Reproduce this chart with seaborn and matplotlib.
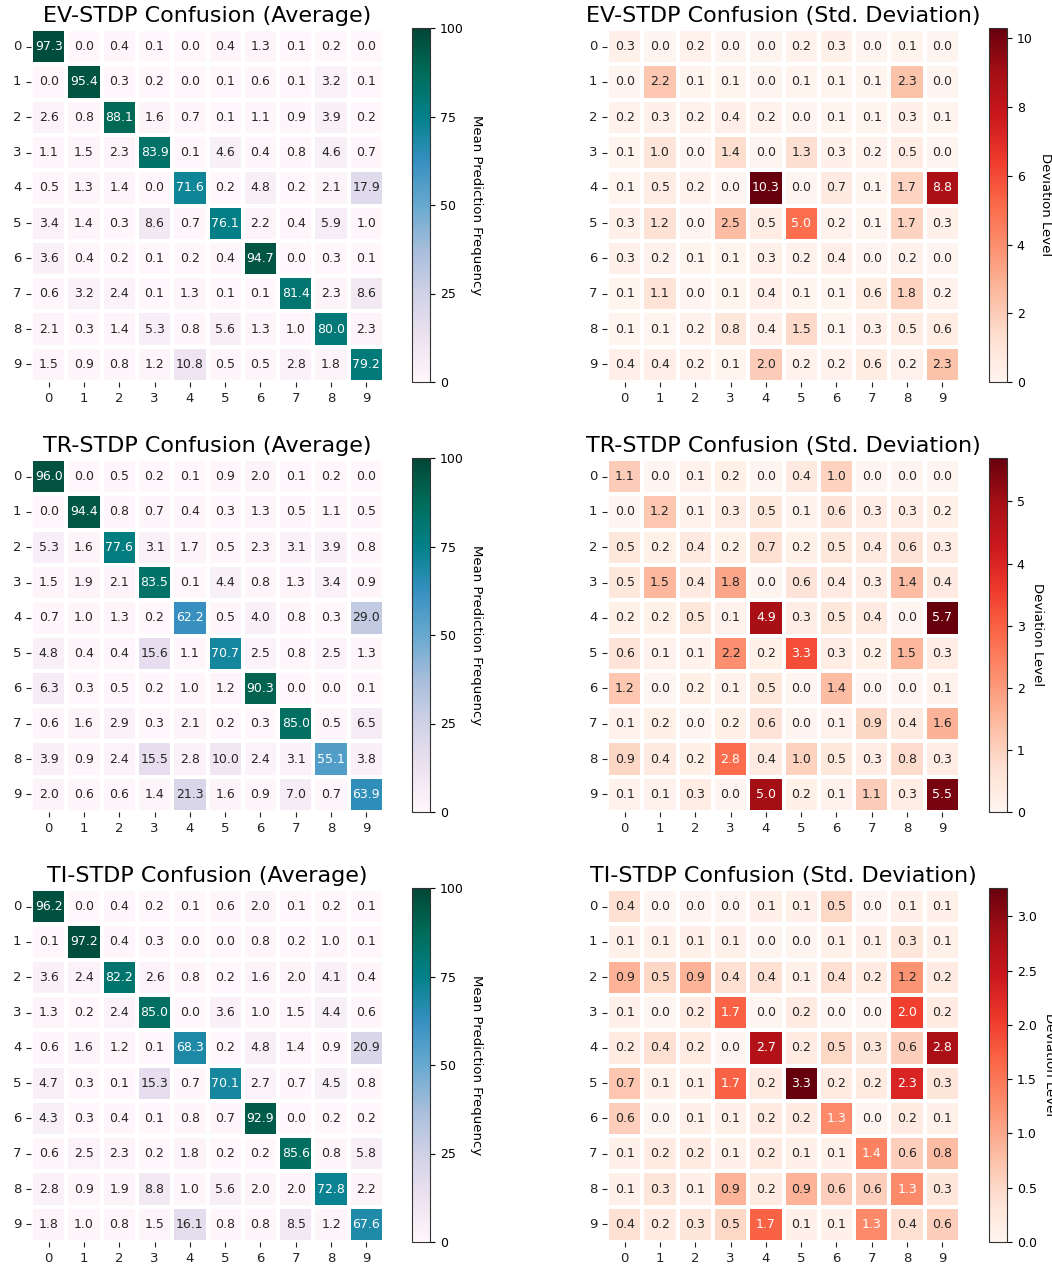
import numpy as np
import matplotlib
matplotlib.use("Agg")
import matplotlib.pyplot as plt
import seaborn as sns

CLASSES = [str(i) for i in range(10)]
CBAR_LABELS = ["Mean Prediction Frequency", "Deviation Level"]

ev_mean = [
    [97.3, 0.0, 0.4, 0.1, 0.0, 0.4, 1.3, 0.1, 0.2, 0.0],
    [0.0, 95.4, 0.3, 0.2, 0.0, 0.1, 0.6, 0.1, 3.2, 0.1],
    [2.6, 0.8, 88.1, 1.6, 0.7, 0.1, 1.1, 0.9, 3.9, 0.2],
    [1.1, 1.5, 2.3, 83.9, 0.1, 4.6, 0.4, 0.8, 4.6, 0.7],
    [0.5, 1.3, 1.4, 0.0, 71.6, 0.2, 4.8, 0.2, 2.1, 17.9],
    [3.4, 1.4, 0.3, 8.6, 0.7, 76.1, 2.2, 0.4, 5.9, 1.0],
    [3.6, 0.4, 0.2, 0.1, 0.2, 0.4, 94.7, 0.0, 0.3, 0.1],
    [0.6, 3.2, 2.4, 0.1, 1.3, 0.1, 0.1, 81.4, 2.3, 8.6],
    [2.1, 0.3, 1.4, 5.3, 0.8, 5.6, 1.3, 1.0, 80.0, 2.3],
    [1.5, 0.9, 0.8, 1.2, 10.8, 0.5, 0.5, 2.8, 1.8, 79.2],
]
ev_std = [
    [0.3, 0.0, 0.2, 0.0, 0.0, 0.2, 0.3, 0.0, 0.1, 0.0],
    [0.0, 2.2, 0.1, 0.1, 0.0, 0.1, 0.1, 0.1, 2.3, 0.0],
    [0.2, 0.3, 0.2, 0.4, 0.2, 0.0, 0.1, 0.1, 0.3, 0.1],
    [0.1, 1.0, 0.0, 1.4, 0.0, 1.3, 0.3, 0.2, 0.5, 0.0],
    [0.1, 0.5, 0.2, 0.0, 10.3, 0.0, 0.7, 0.1, 1.7, 8.8],
    [0.3, 1.2, 0.0, 2.5, 0.5, 5.0, 0.2, 0.1, 1.7, 0.3],
    [0.3, 0.2, 0.1, 0.1, 0.3, 0.2, 0.4, 0.0, 0.2, 0.0],
    [0.1, 1.1, 0.0, 0.1, 0.4, 0.1, 0.1, 0.6, 1.8, 0.2],
    [0.1, 0.1, 0.2, 0.8, 0.4, 1.5, 0.1, 0.3, 0.5, 0.6],
    [0.4, 0.4, 0.2, 0.1, 2.0, 0.2, 0.2, 0.6, 0.2, 2.3],
]
tr_mean = [
    [96.0, 0.0, 0.5, 0.2, 0.1, 0.9, 2.0, 0.1, 0.2, 0.0],
    [0.0, 94.4, 0.8, 0.7, 0.4, 0.3, 1.3, 0.5, 1.1, 0.5],
    [5.3, 1.6, 77.6, 3.1, 1.7, 0.5, 2.3, 3.1, 3.9, 0.8],
    [1.5, 1.9, 2.1, 83.5, 0.1, 4.4, 0.8, 1.3, 3.4, 0.9],
    [0.7, 1.0, 1.3, 0.2, 62.2, 0.5, 4.0, 0.8, 0.3, 29.0],
    [4.8, 0.4, 0.4, 15.6, 1.1, 70.7, 2.5, 0.8, 2.5, 1.3],
    [6.3, 0.3, 0.5, 0.2, 1.0, 1.2, 90.3, 0.0, 0.0, 0.1],
    [0.6, 1.6, 2.9, 0.3, 2.1, 0.2, 0.3, 85.0, 0.5, 6.5],
    [3.9, 0.9, 2.4, 15.5, 2.8, 10.0, 2.4, 3.1, 55.1, 3.8],
    [2.0, 0.6, 0.6, 1.4, 21.3, 1.6, 0.9, 7.0, 0.7, 63.9],
]
tr_std = [
    [1.1, 0.0, 0.1, 0.2, 0.0, 0.4, 1.0, 0.0, 0.0, 0.0],
    [0.0, 1.2, 0.1, 0.3, 0.5, 0.1, 0.6, 0.3, 0.3, 0.2],
    [0.5, 0.2, 0.4, 0.2, 0.7, 0.2, 0.5, 0.4, 0.6, 0.3],
    [0.5, 1.5, 0.4, 1.8, 0.0, 0.6, 0.4, 0.3, 1.4, 0.4],
    [0.2, 0.2, 0.5, 0.1, 4.9, 0.3, 0.5, 0.4, 0.0, 5.7],
    [0.6, 0.1, 0.1, 2.2, 0.2, 3.3, 0.3, 0.2, 1.5, 0.3],
    [1.2, 0.0, 0.2, 0.1, 0.5, 0.0, 1.4, 0.0, 0.0, 0.1],
    [0.1, 0.2, 0.0, 0.2, 0.6, 0.0, 0.1, 0.9, 0.4, 1.6],
    [0.9, 0.4, 0.2, 2.8, 0.4, 1.0, 0.5, 0.3, 0.8, 0.3],
    [0.1, 0.1, 0.3, 0.0, 5.0, 0.2, 0.1, 1.1, 0.3, 5.5],
]
ti_mean = [
    [96.2, 0.0, 0.4, 0.2, 0.1, 0.6, 2.0, 0.1, 0.2, 0.1],
    [0.1, 97.2, 0.4, 0.3, 0.0, 0.0, 0.8, 0.2, 1.0, 0.1],
    [3.6, 2.4, 82.2, 2.6, 0.8, 0.2, 1.6, 2.0, 4.1, 0.4],
    [1.3, 0.2, 2.4, 85.0, 0.0, 3.6, 1.0, 1.5, 4.4, 0.6],
    [0.6, 1.6, 1.2, 0.1, 68.3, 0.2, 4.8, 1.4, 0.9, 20.9],
    [4.7, 0.3, 0.1, 15.3, 0.7, 70.1, 2.7, 0.7, 4.5, 0.8],
    [4.3, 0.3, 0.4, 0.1, 0.8, 0.7, 92.9, 0.0, 0.2, 0.2],
    [0.6, 2.5, 2.3, 0.2, 1.8, 0.2, 0.2, 85.6, 0.8, 5.8],
    [2.8, 0.9, 1.9, 8.8, 1.0, 5.6, 2.0, 2.0, 72.8, 2.2],
    [1.8, 1.0, 0.8, 1.5, 16.1, 0.8, 0.8, 8.5, 1.2, 67.6],
]
ti_std = [
    [0.4, 0.0, 0.0, 0.0, 0.1, 0.1, 0.5, 0.0, 0.1, 0.1],
    [0.1, 0.1, 0.1, 0.1, 0.0, 0.0, 0.1, 0.1, 0.3, 0.1],
    [0.9, 0.5, 0.9, 0.4, 0.4, 0.1, 0.4, 0.2, 1.2, 0.2],
    [0.1, 0.0, 0.2, 1.7, 0.0, 0.2, 0.0, 0.0, 2.0, 0.2],
    [0.2, 0.4, 0.2, 0.0, 2.7, 0.2, 0.5, 0.3, 0.6, 2.8],
    [0.7, 0.1, 0.1, 1.7, 0.2, 3.26, 0.2, 0.2, 2.3, 0.3],
    [0.6, 0.0, 0.1, 0.1, 0.2, 0.2, 1.3, 0.0, 0.2, 0.1],
    [0.1, 0.2, 0.2, 0.1, 0.2, 0.1, 0.1, 1.4, 0.6, 0.8],
    [0.1, 0.3, 0.1, 0.9, 0.2, 0.9, 0.6, 0.6, 1.3, 0.3],
    [0.4, 0.2, 0.3, 0.5, 1.7, 0.1, 0.1, 1.3, 0.4, 0.6],
]

rules = ["EV-STDP", "TR-STDP", "TI-STDP"]
means = [ev_mean, tr_mean, ti_mean]
stds = [ev_std, tr_std, ti_std]

W, H = 1052, 1268
fig = plt.figure(figsize=(W / 100, H / 100), dpi=100)

def px_axes(x0, y0, w, h):
    return fig.add_axes([x0 / W, 1 - (y0 + h) / H, w / W, h / H])

row_tops = [29, 459, 889]
side = 353

for r, rule in enumerate(rules):
    y0 = row_tops[r]
    for c, (data, cmap, kind) in enumerate([(means[r], "PuBuGn", "Average"),
                                             (stds[r], "Reds", "Std. Deviation")]):
        x0 = 31 if c == 0 else 607
        cx0 = 412 if c == 0 else 989
        ax = px_axes(x0, y0, side, side)
        cax = px_axes(cx0, y0 - 1, 18, side + 1)
        kw = dict(vmin=0, vmax=100) if c == 0 else dict(vmin=0)
        sns.heatmap(np.array(data), ax=ax, cbar_ax=cax, cmap=cmap, annot=True, fmt=".1f",
                    annot_kws={"size": 9}, linewidths=1.5, linecolor="white",
                    xticklabels=CLASSES, yticklabels=CLASSES, **kw)
        ax.set_title(f"{rule} Confusion ({kind})", fontsize=16, pad=5)
        ax.tick_params(labelsize=9.5, colors="#222222")
        ax.set_yticklabels(CLASSES, rotation=0)
        ax.set_xticklabels(CLASSES, rotation=0)
        if c == 0:
            cax.set_yticks([0, 25, 50, 75, 100])
        cax.tick_params(labelsize=9)
        cbar = ax.collections[0].colorbar
        cbar.outline.set_linewidth(0.8)
        cbar.outline.set_edgecolor("#333333")
        cbar.set_label(CBAR_LABELS[c], rotation=270, labelpad=14, fontsize=9.5)

fig.savefig("out.png", dpi=100)
